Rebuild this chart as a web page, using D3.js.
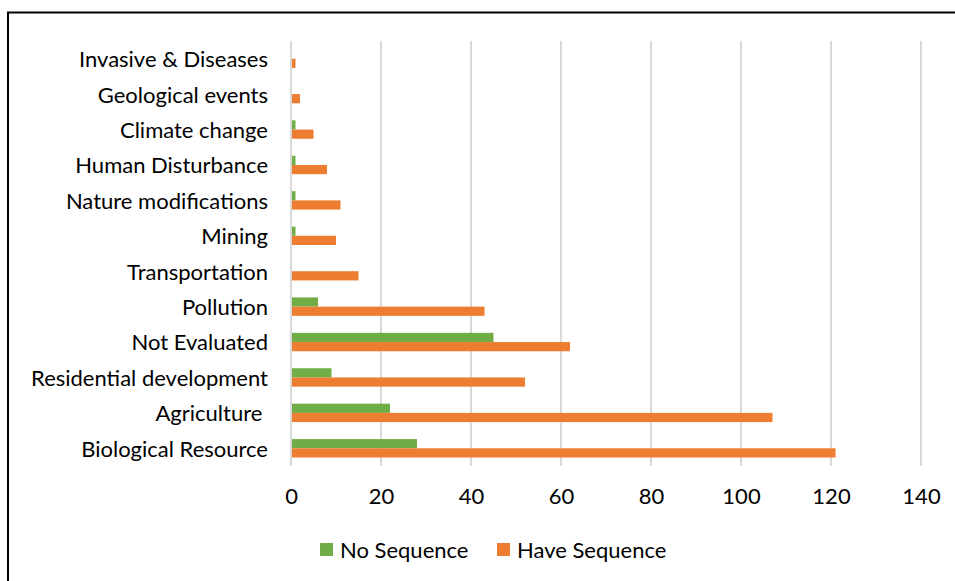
<!DOCTYPE html>
<html>
<head>
<meta charset="utf-8">
<script src="https://cdn.jsdelivr.net/npm/d3@7"></script>
<style>
  body { margin: 0; background: #fff; }
  svg text { font-family: Lato, "Open Sans", sans-serif; fill: #000; }
</style>
</head>
<body>
<div id="chart"></div>
<script>
// categories listed bottom to top as they appear in the chart
const categories = [
    "Biological Resource",
    "Agriculture ",
    "Residential development",
    "Not Evaluated",
    "Pollution",
    "Transportation",
    "Mining",
    "Nature modifications",
    "Human Disturbance",
    "Climate change",
    "Geological events",
    "Invasive & Diseases"
];
const noSequence = [28, 22, 9, 45, 6, 0, 1, 1, 1, 1, 0, 0];
const haveSequence = [121, 107, 52, 62, 43, 15, 10, 11, 8, 5, 2, 1];
const seriesNames = ["No Sequence", "Have Sequence"];
const seriesColors = ["#70ad47", "#ed7d31"];
const xTicks = [0, 20, 40, 60, 80, 100, 120, 140];

const width = 955, height = 581;
const margin = { top: 41, right: 34, bottom: 115, left: 291 };
const innerW = width - margin.left - margin.right;
const innerH = height - margin.top - margin.bottom;
const fontSize = "22px";

const svg = d3.select("#chart")
    .append("svg")
    .attr("width", width)
    .attr("height", height);

// outer frame (only the top and left edges are inside the picture)
svg.append("rect")
    .attr("x", 8)
    .attr("y", 12.5)
    .attr("width", 1000)
    .attr("height", 700)
    .attr("fill", "none")
    .attr("stroke", "#000")
    .attr("stroke-width", 2);

const g = svg.append("g")
    .attr("transform", `translate(${margin.left}, ${margin.top})`);

const x = d3.scaleLinear()
    .domain([0, 140])
    .range([0, 630]);

// reversed so the first category sits at the bottom
const y = d3.scaleBand()
    .domain(categories.slice().reverse())
    .range([0, innerH])
    .paddingInner(0.48)
    .paddingOuter(0.24);

const ySub = d3.scaleBand()
    .domain(seriesNames)
    .range([0, y.bandwidth()]);

// gridlines
g.append("g")
    .selectAll("line")
    .data(xTicks)
    .join("line")
    .attr("x1", d => x(d))
    .attr("x2", d => x(d))
    .attr("y1", 0)
    .attr("y2", innerH)
    .attr("stroke", "#d9d9d9")
    .attr("stroke-width", 2);

// bars
const rows = categories.map((c, i) => ({
    category: c,
    values: [noSequence[i], haveSequence[i]]
}));

const group = g.selectAll(".cat")
    .data(rows)
    .join("g")
    .attr("class", "cat")
    .attr("transform", d => `translate(0, ${y(d.category)})`);

group.selectAll("rect")
    .data(d => d.values.map((v, k) => ({ series: seriesNames[k], value: v, color: seriesColors[k] })))
    .join("rect")
    .attr("x", x(0) + 1)
    .attr("y", d => ySub(d.series))
    .attr("width", d => Math.max(0, x(d.value) - x(0) - 1))
    .attr("height", ySub.bandwidth())
    .attr("fill", d => d.color);

// x axis labels
const xAxis = d3.axisBottom(x)
    .tickValues(xTicks)
    .tickSize(0)
    .tickPadding(22);

g.append("g")
    .attr("transform", `translate(0, ${innerH})`)
    .call(xAxis)
    .call(a => a.select(".domain").remove())
    .selectAll("text")
    .style("font-size", fontSize)
    .style("font-family", "Lato, 'Open Sans', sans-serif");

// y axis labels
const yAxis = d3.axisLeft(y)
    .tickSize(0)
    .tickPadding(23);

g.append("g")
    .call(yAxis)
    .call(a => a.select(".domain").remove())
    .selectAll("text")
    .attr("dy", "0.38em")
    .style("font-size", fontSize)
    .style("white-space", "pre")
    .style("font-family", "Lato, 'Open Sans', sans-serif");

// legend
const legendPos = [320, 497];
const legend = svg.append("g")
    .selectAll("g")
    .data(seriesNames)
    .join("g")
    .attr("transform", (d, i) => `translate(${legendPos[i]}, 543)`);

legend.append("rect")
    .attr("width", 13)
    .attr("height", 13)
    .attr("fill", (d, i) => seriesColors[i]);

legend.append("text")
    .attr("x", 20)
    .attr("y", 7)
    .attr("dy", "0.36em")
    .style("font-size", fontSize)
    .text(d => d);
</script>
</body>
</html>
